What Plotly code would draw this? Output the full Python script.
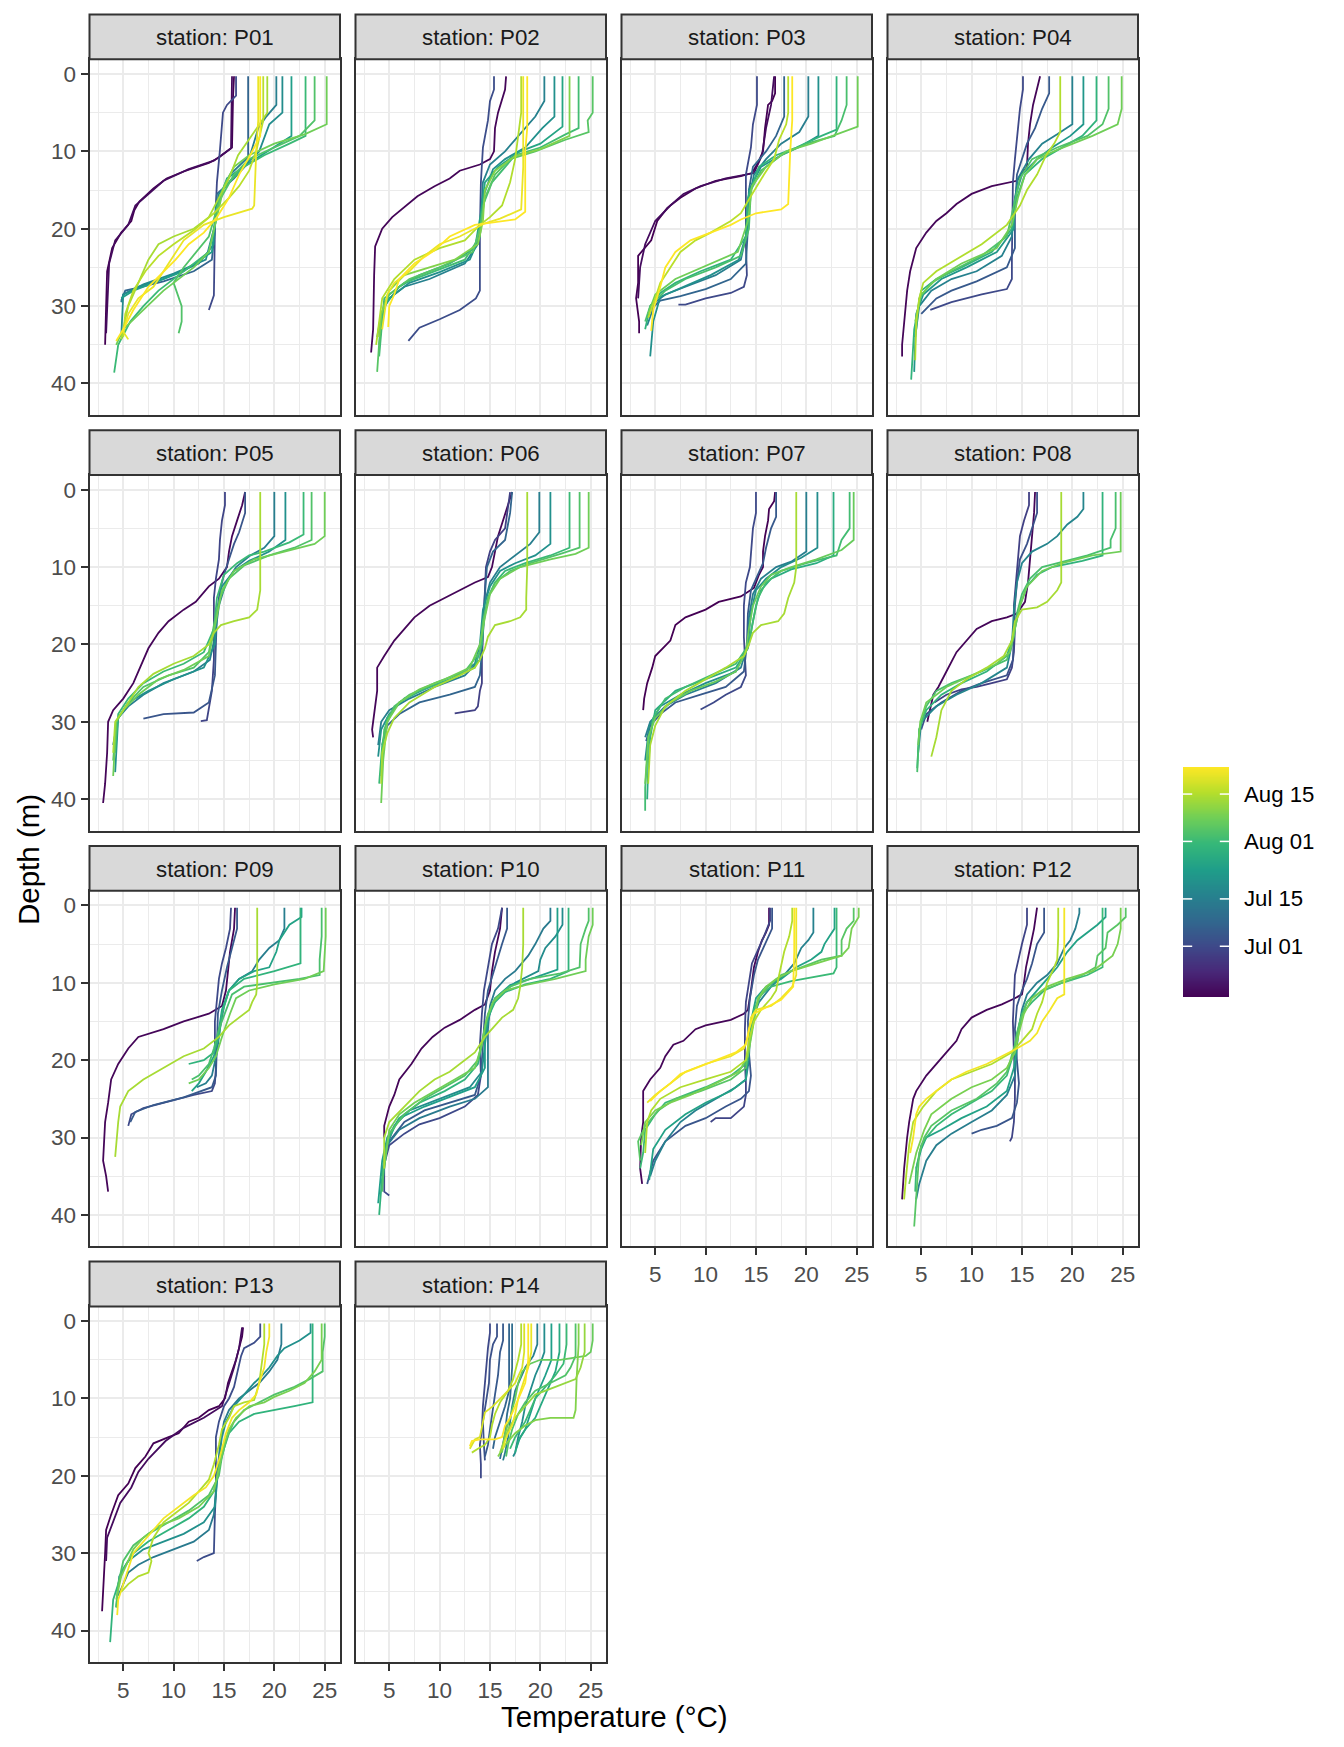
import pandas as pd
import plotly.graph_objects as go
from plotly.colors import sample_colorscale

# ---------------- data: (sampling date, [(temperature °C, depth m), ...]) ----------------
P01 = [
    ("2021-06-16", [(16.0,0.3),(15.9,3),(15.8,9.5),(14.5,10.8),(13.5,11.5),(11,12.6),(9.3,13.5),(8,14.8),(6.6,16.5),(6.1,17.6),(5.8,19),(4.8,20.5),(3.9,22.5),(3.4,25.5),(3.3,30),(3.2,35)]),
    ("2021-06-18", [(15.8,0.3),(15.7,9.6),(14,11.2),(11.5,12.3),(9,13.8),(7.5,15.5),(6.2,17),(5.5,19.5),(4.2,21.5),(3.6,24.5),(3.4,30),(3.3,33.5)]),
    ("2021-07-01", [(16.2,0.3),(16.2,2.8),(15.3,4),(14.9,5),(14.6,9.8),(14.3,14),(14.1,20),(14.0,25),(14.0,28.6),(13.5,30.5)]),
    ("2021-07-08", [(17.4,0.3),(17.4,11.5),(16,13.5),(14.3,15.5),(14.1,20),(13.8,24),(12,25.5),(9,26.8),(6.5,27.6),(5.2,28),(4.8,29.3)]),
    ("2021-07-15", [(20.2,0.3),(20.2,4),(19.2,5.5),(18.4,7),(17.6,10.5),(15.6,13),(14.2,17),(14.0,22),(12.5,24.5),(9,26.5),(6.5,27.5),(5,28.5),(4.8,29.5)]),
    ("2021-07-19", [(20.8,0.3),(20.8,5),(19.5,6.5),(18.5,10),(16.5,12.5),(14.5,15.5),(14,20),(13.2,24),(10,25.8),(7,27.2),(5,28.5),(4.8,34)]),
    ("2021-07-24", [(21.7,0.3),(21.7,8),(19.8,9.6),(17.5,11.5),(15.3,13.5),(14.3,17),(13.8,23),(11,25.5),(8,27),(6,28),(4.8,29)]),
    ("2021-08-01", [(23.1,0.3),(23.1,8),(21.5,9),(19,10.5),(17,12),(14.8,15),(14.2,19),(13.5,23),(10.5,26),(8.5,28),(7,30),(5.7,32),(4.5,35),(4.1,38.6)]),
    ("2021-08-04", [(24.0,0.3),(24.0,6),(22.5,8),(20,9.5),(17.5,11),(16,13),(14.5,16.5),(13.5,21),(11,25),(10,27),(10.8,30),(10.8,32),(10.5,33.5)]),
    ("2021-08-08", [(25.2,0.3),(25.2,6.5),(23,7.8),(20,9),(17.5,10.5),(16,12),(15,14.5),(14.2,19),(13.5,23),(12,25),(10.5,26.5),(9,28),(7,30.5),(5,33),(4.3,35)]),
    ("2021-08-14", [(19.3,0.3),(19.3,5),(18.0,7.5),(17.2,9),(16.4,10.5),(15.5,13.5),(14.5,16),(13.5,18.5),(12,20),(10,21),(8.5,22),(7.5,24),(6.5,27),(5.5,30),(5,33),(4.8,34.3)]),
    ("2021-08-16", [(18.9,0.3),(18.9,6),(18.2,10),(17.5,12.5),(16.5,14.5),(15.5,16),(14,18),(12,20.2),(10,22),(8.5,23.5),(7.2,25.5),(6,28),(5.2,31),(5.0,34)]),
    ("2021-08-21", [(18.4,0.3),(18.4,6),(18.2,10),(18.0,17),(17.8,17.4),(15,18.5),(13,19.5),(11,21.5),(10,23.5),(8,27.5),(6.5,29),(5.5,31),(5.0,33.3),(5.5,34.3)]),
    ("2021-08-23", [(18.6,0.3),(18.6,8),(17.6,10.5),(16.5,13),(15.5,16),(14.3,18.5),(13,20.5),(11.5,22),(10.2,24),(9,25.5),(7.5,27.5),(6,30.5),(5,33),(4.3,34.5)]),
]

P02 = [
    ("2021-06-17", [(16.6,0.3),(16.5,2),(15.8,5),(15.5,7),(15.4,10),(15,11),(14,11.7),(12,12.5),(11,13.5),(9.5,14.5),(7.8,15.8),(6.5,17.2),(5.3,18.5),(4.3,20),(3.6,22.3),(3.5,26),(3.4,33),(3.2,36)]),
    ("2021-07-02", [(15.4,0.3),(15.4,2),(15,3.5),(14.8,6),(14.3,9.5),(14.1,14),(14.0,20),(14.0,23),(14.0,28),(13.6,29),(12,30.5),(10,31.7),(8,32.8),(6.9,34.5)]),
    ("2021-07-16", [(20.4,0.3),(20.4,3.5),(19.5,5.5),(18.5,7),(17.5,8.5),(16.5,10),(15,11.7),(14.3,14),(14.1,19),(13.8,22),(12.5,24.5),(9,26.5),(6.5,27.5),(5.5,28.5),(4.5,29.5),(4,35)]),
    ("2021-07-20", [(21.4,0.3),(21.4,5.5),(20.2,7),(18.5,9.5),(16.5,11),(15.3,12.3),(14.3,16),(14,21),(13,24),(10,25.6),(7,27),(5,29),(4.2,31),(3.8,34)]),
    ("2021-07-26", [(22.2,0.3),(22.2,6.8),(20,9),(18,10),(15.8,12),(14.5,14),(14.1,18),(13.5,22.5),(11,24.5),(8,26),(6,27.5),(4.5,30),(4.0,33)]),
    ("2021-08-02", [(23.8,0.3),(23.8,7),(22.5,7.8),(20,9.5),(17.5,10.5),(16.5,12),(15.2,14),(14.3,17),(14,21),(12.5,24),(9,25.8),(6.5,27),(4.5,29),(4,36.5)]),
    ("2021-08-05", [(25.2,0.3),(25.2,5),(24.7,6),(24.8,7.5),(22.5,8.5),(19.5,10),(17,11),(15.5,13),(14.5,16),(14,20),(13.3,23),(10,25),(7,26.5),(5,28.5),(4.2,31),(3.8,38.5)]),
    ("2021-08-10", [(22.9,0.3),(22.9,8),(20,9.7),(17.5,10.6),(15.5,12.5),(14.5,15),(14.3,19),(13.8,22),(11.5,24),(9,25),(6.5,26),(5,28),(4.2,31),(4,34)]),
    ("2021-08-15", [(18.1,0.3),(18.1,5),(17.8,8),(17.5,11),(17.0,14),(16.2,17),(15,18.5),(14,19.5),(12.5,21.5),(10,22.5),(7.5,24),(5.5,26.5),(4.3,29),(4,32),(3.7,35)]),
    ("2021-08-21", [(18.3,0.3),(18.3,6),(18.3,12),(18.1,17.5),(16,18.7),(14.5,19.3),(12,21),(10,22),(8.5,23.5),(7,25.5),(5.5,27),(4.8,28.5),(4.5,31),(4.3,33)]),
    ("2021-08-23", [(18.7,0.3),(18.7,7),(18.5,10),(18.5,15),(18.5,17.8),(17.5,18.8),(13.5,19.5),(11,21),(9.5,22.8),(7.5,24.5),(6,26.5),(5.5,28.5),(5,30),(4.9,32.7)]),
]

P03 = [
    ("2021-06-16", [(16.9,0.3),(16.9,2.5),(16.6,3.5),(16.2,4),(15.9,7),(15.7,10),(15.2,11.5),(14.6,12.8),(13.5,13.2),(11,13.8),(9,14.8),(7.5,16),(6.2,17.3),(5.2,19),(4.6,21.5),(3.3,23.5),(3.3,27),(3.1,29),(3.4,32),(3.4,33.5)]),
    ("2021-06-18", [(16.8,0.3),(16.5,4),(16,7),(15.6,10.5),(14.8,12.8),(12,13.5),(9.5,14.5),(7.8,15.5),(6.5,17),(5,19),(4,22),(3.5,25),(3.3,29)]),
    ("2021-07-01", [(15.1,0.3),(15.1,4),(14.7,6.5),(14.5,9.5),(14.0,13),(14.0,18),(14.0,22),(14.1,26),(13.8,27.5),(12.5,28.3),(10,29),(8,29.8),(7.3,29.8)]),
    ("2021-07-08", [(17.8,0.3),(17.8,5.5),(17,8),(16,10),(14.7,12),(14.3,15),(14.2,20),(14.0,24.5),(12.5,26.5),(10,27.8),(7.5,28.7),(5.5,29.3),(4.5,30.5)]),
    ("2021-07-15", [(20.2,0.3),(20.2,5.5),(19.3,7.5),(17.5,9),(16,11),(14.8,13),(14.2,17),(14,21),(13.5,24),(11,26),(8,27.5),(6,28.5),(5,29.5),(4.2,32.5)]),
    ("2021-07-20", [(21.2,0.3),(21.2,8),(19.5,9.3),(17.5,10.5),(15.5,12),(14.3,15),(14.2,20),(13.3,24),(10.5,26),(7.5,27.7),(5.5,28.8),(4.8,32),(4.5,36.5)]),
    ("2021-07-30", [(23.0,0.3),(23.0,7.2),(21.5,8),(19,9.5),(17,10.5),(15.3,12),(14.2,16),(14,21),(12.5,24),(9.5,25.5),(7,27),(5.5,28.3),(4.5,30),(4,33)]),
    ("2021-08-03", [(24.0,0.3),(24.0,4),(23.5,6),(22.8,8),(20,9),(17.5,10.5),(15.5,12.5),(14.5,15),(14.3,20),(13.5,23.5),(11,25),(8,26.5),(6,28),(4.5,30),(4,32)]),
    ("2021-08-08", [(25.1,0.3),(25.1,6.8),(23,7.8),(20.5,9),(18,10),(16,12),(14.6,14.5),(14.2,19),(13.2,23),(10,24.8),(7,26.5),(5,28.5),(4.3,31)]),
    ("2021-08-16", [(18.2,0.3),(18.2,5),(18.0,6.5),(17.3,8.5),(16.8,11),(15.8,13),(14.4,16),(13.5,18),(12.5,19),(10.5,20.5),(9,21.5),(7.5,23),(6.5,25),(5.5,27),(5,29),(4.3,31.5)]),
    ("2021-08-23", [(18.6,0.3),(18.6,6),(18.4,10),(18.3,14),(18.2,16.8),(17.5,17.5),(15,18),(13.5,18.8),(12.5,19.5),(10.5,20.5),(8.5,21.5),(7,23),(6,25),(5.5,27.5),(4.8,30.5),(4.6,33.2)]),
]

P04 = [
    ("2021-06-17", [(16.8,0.3),(16.5,2),(16.1,4),(15.8,6.5),(15.6,9),(15.5,12),(14.5,13.8),(12,14.5),(10,15.5),(8.5,16.8),(7.5,18),(6.5,19),(5.5,20.5),(4.5,22.5),(3.9,25.5),(3.6,28),(3.4,31),(3.1,35),(3.1,36.5)]),
    ("2021-07-01", [(15.1,0.3),(15.1,2),(14.8,4.5),(14.5,8),(14.3,11),(14.1,14),(14.0,20),(14.0,24),(14.0,26.5),(13.5,27.8),(11,28.5),(8,29.5),(5.9,30.5)]),
    ("2021-07-05", [(17.7,0.3),(17.7,2.5),(17,4.5),(16.3,7),(15.5,9),(15,11),(14.5,13),(14.3,18),(14.3,22.5),(13.5,25),(10.5,26.8),(8,28),(6.5,29),(5,31)]),
    ("2021-07-16", [(20.0,0.3),(20.0,6.5),(18.5,7.8),(17,9),(15.7,11),(14.6,13.5),(14.2,17),(14,21),(13,23.5),(10.5,25.5),(8,26.5),(6,28),(4.8,30),(4.4,34)]),
    ("2021-07-22", [(21.1,0.3),(21.1,6.5),(19.8,8),(18,9.5),(16.5,11),(15,13),(14.3,16),(14.2,20),(12.5,23),(9.5,25),(7,26.5),(5.2,28.5),(4.5,31),(4.3,38.5)]),
    ("2021-07-30", [(22.4,0.3),(22.4,6),(21,8),(19,9.5),(17,11),(15.3,13),(14.5,16),(14,20),(12,23),(9,25),(6.5,26.5),(5,28),(4.3,33),(4,39.5)]),
    ("2021-08-04", [(23.6,0.3),(23.6,4.5),(23,6.5),(21.5,8),(18.5,9.5),(16,11),(14.8,13.5),(14.2,17),(13.5,21),(11,23.5),(8,25.5),(6,27),(4.8,29),(4.5,33)]),
    ("2021-08-08", [(24.9,0.3),(24.9,4.5),(24.5,6.5),(22,8),(18.5,9.8),(16.5,11),(15.3,13),(14.6,16),(14,19.5),(12.5,22.5),(9,24.5),(6.5,26.5),(5,28.5),(4.4,32)]),
    ("2021-08-15", [(18.8,0.3),(18.8,7.5),(18.2,9),(17.4,10.5),(16.5,13),(15.5,15),(14.8,17),(13.5,19.5),(11,22),(8.5,24),(6.5,25.5),(5.2,27),(4.8,29),(4.5,32),(4.4,37)]),
]

P05 = [
    ("2021-06-17", [(17.1,0.3),(16.8,2),(16.3,4),(15.8,6),(15.5,8),(15.3,10),(14.5,11.5),(13.5,12.5),(12.2,14.5),(11,15.5),(9.5,17),(8.5,18.5),(7.5,20.5),(6.8,22.5),(6.0,25),(5,27),(4,28.5),(3.5,30),(3.4,34),(3.2,38),(3.0,40.5)]),
    ("2021-06-30", [(15.1,0.3),(15.1,2),(14.8,4),(14.6,6.5),(14.5,9),(14.2,11.5),(14.0,14),(14,18),(14.0,22),(13.8,26),(13.5,28.5),(13.3,29.8),(12.7,29.9)]),
    ("2021-07-04", [(17.1,0.3),(17.1,3),(16.5,5.5),(16,7),(15.5,9),(15,11),(14.6,13),(14.3,16),(14.2,20),(14.1,24),(13.5,27.5),(12,28.8),(9,29),(7,29.6)]),
    ("2021-07-15", [(20.0,0.3),(20.0,6),(19,7.5),(17.5,8.6),(16.2,10),(15.2,12),(14.5,15),(14.1,19),(13.6,22),(12,23.5),(9,25),(7,26.5),(5.5,28),(4.5,29.5),(4.0,33)]),
    ("2021-07-20", [(21.1,0.3),(21.1,6.5),(19.5,8),(17.5,9.2),(16,10.5),(14.8,12.5),(14.3,16),(14.1,20),(13,23),(10,24.5),(7.5,26),(5.5,27.5),(4.5,29.5),(4.2,36.5)]),
    ("2021-08-01", [(22.9,0.3),(22.9,5.8),(21.5,6.8),(19,8),(17.5,8.5),(16.3,9.5),(15,11),(14.3,14),(14.0,18),(13,21),(11,22.5),(9,23.5),(7,25),(5.5,27),(4.5,29),(4.2,34)]),
    ("2021-08-04", [(23.7,0.3),(23.7,6.5),(22,7.5),(19.5,8.5),(17,9.8),(15.5,11.5),(14.6,14),(14.0,17.5),(13.5,21),(12,23),(9.5,24),(7,25.5),(5.5,27.5),(4.3,30),(4,35)]),
    ("2021-08-08", [(25.0,0.3),(25.0,6),(24,7),(21,8),(18,9),(16,10.5),(14.8,13),(14.2,17),(13.5,21.5),(11,23.3),(8.5,24.5),(6.5,26.5),(5,28.5),(4.3,30),(4,37)]),
    ("2021-08-14", [(18.6,0.3),(18.6,8),(18.6,13),(18.3,15.5),(17.5,16.5),(16,17),(14.7,17.5),(14,18.5),(13.5,20),(12,21.5),(10,22.5),(8,23.8),(6.5,25.5),(5,28.5),(4.2,30),(4,34)]),
]

P06 = [
    ("2021-06-17", [(17.2,0.3),(16.8,2),(16.3,4),(15.8,6),(15.5,8),(15.2,10),(14.8,11.3),(13.5,12),(12,13),(10.5,14),(9,15),(7.5,16.5),(6.5,18),(5.5,19.5),(4.5,21.5),(3.8,23),(3.8,26),(3.5,29),(3.3,31),(3.4,32)]),
    ("2021-06-29", [(17.0,0.3),(16.8,2.5),(16.5,5),(15.5,6.5),(15,8),(14.6,10),(14.5,13),(14.3,18),(14.2,22),(14.2,25),(14.0,26),(13.8,28),(13.5,28.5),(11.5,28.9)]),
    ("2021-07-08", [(17.2,0.3),(17.0,3),(16.5,6.5),(15.3,8),(14.7,10),(14.5,13),(14.3,17),(14.2,21),(14.0,24),(13.5,25.5),(11,26.5),(8,27.5),(6,29),(4.8,30.5),(4.3,33)]),
    ("2021-07-15", [(19.9,0.3),(19.9,5.5),(19,7),(17.5,8.5),(16,10),(15,12),(14.5,14.5),(14.3,18),(14,22),(12.5,24),(9.5,25.5),(7,27),(5,28.5),(4.2,30),(3.9,33)]),
    ("2021-07-20", [(21.0,0.3),(21.0,7),(19.5,8.5),(17.5,9.5),(16,10.5),(15,12.5),(14.3,15.5),(14,20),(13.5,22.5),(11.5,24.3),(9,25.5),(6.5,27),(5,29),(4.2,31),(3.9,34.5)]),
    ("2021-08-01", [(22.9,0.3),(22.9,7.5),(21,8.5),(18.5,9.5),(16.5,10.5),(15.5,12),(14.8,14),(14.4,17),(14.2,20),(13.5,23),(11,24.5),(8,26),(6,27.5),(4.8,29.5),(4.3,33),(4.0,38)]),
    ("2021-08-04", [(23.9,0.3),(23.9,7.5),(22,8.3),(19,9.5),(17,10.5),(15.5,12),(14.8,14),(14.3,17),(14.0,21),(12.5,23.5),(9.5,25),(7,26.5),(5.5,28),(4.5,31),(4.2,37)]),
    ("2021-08-08", [(24.8,0.3),(24.8,7.5),(23.5,8.3),(21,9),(18,10),(16,11.5),(15,13.5),(14.5,16.5),(14.0,20),(13,23),(10.5,24.5),(8,25.8),(6,27.5),(4.8,30),(4.4,35),(4.2,40.5)]),
    ("2021-08-14", [(18.7,0.3),(18.7,6),(18.7,10),(18.6,14),(18.6,15.5),(18,16.5),(17,17),(15.5,17.5),(14.8,19),(14.5,20.5),(14,22),(13.5,23),(12,24),(9.5,25.5),(7,27.5),(5.5,29.5),(4.8,31.5),(4.3,34),(4.2,38)]),
]

P07 = [
    ("2021-06-16", [(16.9,0.3),(16.8,1.5),(16.3,2.5),(16.2,4),(15.9,6),(15.7,8),(15.7,10),(15.3,11),(14.8,12.7),(13.5,13.8),(11.3,14.5),(10,15.5),(8,16.5),(7,17.5),(6.5,19.5),(5.8,20.5),(5,21.5),(4.7,23),(4.2,25),(3.9,27),(3.8,28.5)]),
    ("2021-07-01", [(15.0,0.3),(15.0,3),(14.7,5),(14.5,8),(14.4,10),(14,12),(13.8,15),(13.8,19),(13.9,22),(14.0,24),(13.5,25.5),(12,26.5),(10.8,27.5),(9.5,28.4)]),
    ("2021-07-05", [(17.0,0.3),(17.0,3.5),(16.5,5),(16,7.5),(15.7,9.5),(15,11.5),(14.5,13),(14.2,16),(14.1,20),(13.8,23.5),(12,25.5),(9.5,26.5),(7,27.5),(5.5,29),(4.5,30.5),(4.1,32.5)]),
    ("2021-07-15", [(20.0,0.3),(20.0,8),(18.5,9.3),(17,10),(15.5,11.5),(14.7,13.5),(14.3,16.5),(14.2,20),(13.5,23),(11,25),(8,26.5),(6,28),(4.5,30),(4.0,32)]),
    ("2021-07-19", [(21.1,0.3),(21.1,7.5),(19.5,8.8),(17.5,10),(16,11.5),(15,13),(14.5,16),(14.2,20),(13,23.5),(10,25),(7.5,26.5),(5.5,28),(4.4,30.5),(4.0,35)]),
    ("2021-07-28", [(22.7,0.3),(22.7,8.5),(21,9.5),(18.5,10.3),(16.5,11.5),(15.5,13),(15,15),(14.6,18),(14.2,20.5),(13,23),(10,24.5),(7,26),(5,28.5),(4.5,32),(4.3,36),(4.2,40)]),
    ("2021-08-02", [(24.3,0.3),(24.3,5),(23.5,6.5),(23.0,8.5),(20,9.5),(17.5,10.5),(16,12),(15.2,14),(14.7,17),(14.3,20),(13,22.5),(10.5,24),(8,25.5),(6,27),(4.8,29.5),(4.3,33),(4.0,38.5),(4.0,41.5)]),
    ("2021-08-07", [(24.7,0.3),(24.7,6.5),(23.5,7.8),(21,9),(18.5,10),(16.5,11),(15.5,12.5),(14.7,15),(14.3,18),(14.0,21),(13,23.5),(11,24.8),(8.5,26),(6.5,27.5),(5,29.5),(4.3,32),(4.0,38)]),
    ("2021-08-14", [(19.0,0.3),(19.0,6),(19.0,10),(18.8,12),(18.2,14),(17.8,16),(17.2,17),(15.5,17.5),(14.7,18.5),(14.3,20),(13.8,21.5),(12,23),(10,24.5),(8,26),(6,28),(5,30.5),(4.5,33),(4.3,38)]),
]

P08 = [
    ("2021-06-17", [(16.3,0.3),(16.2,3),(16,6),(15.8,9),(15.6,12),(15.3,14.5),(14.5,16),(13.5,16.5),(12,17),(10.5,18),(9.5,19.5),(8.5,21),(7.5,23.5),(6.7,25.5),(6.2,26.5),(5.8,29),(5.6,30)]),
    ("2021-06-29", [(15.7,0.3),(15.7,2),(15.2,4),(14.8,6),(14.6,9),(14.4,12),(14.2,15),(14.3,18),(14.2,21),(14.0,23),(13.5,24.5),(12,25),(10.5,25.5),(9,25.8),(7.5,26.5),(6.3,27.5)]),
    ("2021-07-03", [(16.5,0.3),(16.5,3),(16.0,5),(15.5,7),(14.8,9),(14.5,12),(14.3,15),(14.2,18.5),(14.1,22),(13.5,24),(11,25),(9,26),(7,27.5),(5.5,29),(5,31)]),
    ("2021-07-17", [(21.1,0.3),(21.1,2.5),(20.5,3.5),(19.5,4.5),(18.5,6),(17.5,7),(16,8),(15,9.5),(14.5,12),(14.2,15.5),(14,20),(13.5,23),(11,25),(8.5,26.5),(6.5,28),(5,30),(4.7,34)]),
    ("2021-07-30", [(23.0,0.3),(23.0,8.5),(21,9.2),(18,10),(16.5,11),(15.5,12.5),(14.8,15),(14.2,18.5),(13.5,21.5),(11.5,23.5),(9,25),(7,26.5),(5.5,28.5),(4.8,31),(4.6,36)]),
    ("2021-08-03", [(24.3,0.3),(24.3,5),(23.8,6.5),(23.8,7.5),(21.5,8.5),(19,9.3),(17,10),(15.8,11.5),(15,13.5),(14.5,16),(14.2,19),(13.5,22),(11,23.5),(8,25),(6.5,26),(5.5,28),(4.8,31),(4.6,36.5)]),
    ("2021-08-08", [(24.8,0.3),(24.8,6),(24.8,8),(22,8.5),(19,9.5),(17,10.5),(15.5,12.5),(14.8,15),(14.3,18),(13.8,21),(12.5,22.5),(10,24),(7.5,25.5),(5.5,27.5),(4.9,30),(4.7,33)]),
    ("2021-08-14", [(18.9,0.3),(18.9,5),(18.9,10),(18.9,12),(18.5,13),(17.5,14.5),(16.5,15.2),(15,15.5),(14.3,17),(14,19.5),(13.2,21.5),(11.5,23),(9.5,24.5),(8,26),(7,28.5),(6.5,32),(6,34.5)]),
]

P09 = [
    ("2021-06-17", [(16.1,0.3),(16.0,3),(15.6,6),(15.4,8.5),(15.2,11),(14.8,13),(13.5,14),(11,15),(9,16),(6.5,17),(5.5,18.5),(4.5,20.5),(3.8,22.5),(3.5,25.5),(3.2,28),(3.0,33),(3.3,35),(3.5,37)]),
    ("2021-07-01", [(15.7,0.3),(15.6,3),(15.2,5.5),(14.8,7.5),(14.5,9.5),(14.3,12),(14.1,15),(14.1,18),(14.2,21),(14.1,23),(13.8,24),(12,24.5),(9.5,25.3),(7,26.2),(5.8,27),(5.5,28.5)]),
    ("2021-07-05", [(16.3,0.3),(16.3,3),(15.8,5.5),(15.3,8),(14.8,11),(14.4,14),(14.3,18),(14.2,22),(13.8,23.5),(11,24.8),(8,25.8),(6.2,26.7),(5.7,28)]),
    ("2021-07-15", [(21.0,0.3),(21.0,3),(20.5,4.5),(19.5,5.5),(18.5,7),(17.8,8.5),(16.5,9.5),(15.5,11),(15,13),(14.6,16),(14.3,19),(13.8,22),(13.2,23),(12.3,23.5)]),
    ("2021-07-25", [(22.7,0.3),(22.7,1.5),(21.5,2.5),(20.5,4.5),(20.2,6),(19.5,8),(18,8.5),(16.5,9.5),(15.5,11),(14.8,13.5),(14.5,16),(14.0,19.5),(13.2,21.5),(12.5,23),(11.8,24)]),
    ("2021-07-30", [(22.6,0.3),(22.6,7.5),(20,8.5),(17,9.5),(15.5,11),(14.8,14),(14.5,17),(14,19),(13,20),(11.5,20.5)]),
    ("2021-08-03", [(24.7,0.3),(24.7,4),(24.5,7),(24.5,9),(22.5,9.5),(19.5,10),(17,10.5),(15.8,11.5),(15.2,13.5),(14.5,16),(14.0,18.5),(13.5,20.5),(12.5,22),(11.8,22.5)]),
    ("2021-08-08", [(25.1,0.3),(25.1,4),(24.9,8.5),(23,9.5),(20,10.2),(17.5,11),(16.2,12),(15.6,14),(14.8,17),(14.2,19.5),(13.5,21),(12.5,22.5),(11.5,23)]),
    ("2021-08-14", [(18.3,0.3),(18.3,5),(18.3,10),(18.2,11.5),(17.8,12.5),(17.5,13.5),(16.5,14.5),(15.5,15.5),(14.5,17),(13,18.5),(11,19.5),(9,21),(7,22.5),(5.5,24),(4.7,26),(4.5,28),(4.2,32.5)]),
]

P10 = [
    ("2021-06-17", [(16.2,0.3),(16.0,3),(15.5,6),(15.2,8.5),(15.0,11),(14.5,12.8),(13.5,13.5),(12,14.8),(10.5,15.8),(9.3,17),(8.2,18.5),(7.2,20.5),(6,22.5),(5.5,24.5),(5,26),(4.5,28.5),(4.5,30)]),
    ("2021-07-01", [(16.2,0.3),(15.8,3),(15.2,5),(14.8,8),(14.4,11),(14.2,14),(14.0,18),(14.1,22),(13.8,24.5),(12.5,26),(10,27.5),(8,28.3),(6.5,29.5),(5,31),(4.5,33.5),(4.5,37),(5,37.5)]),
    ("2021-07-05", [(16.7,0.3),(16.7,3),(16.2,5),(15.5,8),(14.8,11),(14.5,14),(14.3,18),(14.1,22),(13.5,24.5),(11,25.5),(8.5,26.5),(6.5,28),(5,30.5),(4.5,33)]),
    ("2021-07-14", [(21.0,0.3),(21.0,2),(20.3,3),(19.5,5),(18.8,6.5),(17.5,8.5),(16.5,9.5),(15.5,11),(15,13),(14.8,16),(14.8,20),(14.8,23.5),(13.5,25),(11,26),(8,27.5),(6,29),(4.8,31),(4.2,35)]),
    ("2021-07-19", [(22.2,0.3),(22.2,2.5),(21.5,4),(20.5,5.5),(20,7),(19.8,8.5),(17.5,10),(16,11.5),(15.2,13),(14.8,15),(14.5,18),(14.2,21.5),(13,23.5),(10,25),(7,26.5),(5.5,28.5),(4.8,31),(4.3,36)]),
    ("2021-07-24", [(21.7,0.3),(21.7,8.3),(19.5,9.3),(17,10.3),(15.5,12),(14.8,14.5),(14.5,17.5),(14.5,21),(13.5,23.5),(11,24.8),(8.5,26),(6,27.5),(4.8,30),(4.3,33),(3.9,38.5)]),
    ("2021-07-30", [(22.8,0.3),(22.8,8.5),(21,9.5),(18.5,10.2),(16.5,11.2),(15.5,12.5),(14.8,14.5),(14.3,17.5),(13.8,20.5),(12.5,22.5),(10.5,24),(8,25.5),(6,27.5),(4.8,30.5),(4.3,35),(4.0,40)]),
    ("2021-08-04", [(24.8,0.3),(24.8,2),(24.5,3),(24.0,5),(23.9,8),(22,8.8),(19,9.5),(17,10.5),(15.5,12),(14.8,14),(14.3,17),(13.8,20),(12.5,22),(10.5,23.5),(8.5,25),(6.5,27),(5,29.5),(4.5,33),(4.3,37)]),
    ("2021-08-08", [(25.2,0.3),(25.2,2.5),(24.8,4),(24.5,7),(24.5,8.5),(21.5,9.5),(18.5,10.3),(16.5,11),(15.3,12.5),(14.6,15),(14.2,18),(13.5,21),(11.5,22.5),(9.5,24),(7.5,25.5),(6,27),(5,29),(4.5,34)]),
    ("2021-08-14", [(18.3,0.3),(18.3,5),(18.2,8),(18.0,10.5),(17.8,12),(17.3,13.5),(16.2,14.5),(15.5,15.5),(14.5,17),(13.5,19),(12.5,20),(11,21.5),(9.5,22.5),(8,24),(6.5,26),(5,28),(4.5,30),(4.5,34)]),
]

P11 = [
    ("2021-06-17", [(16.3,0.3),(16.3,2.5),(16.0,3.5),(15.6,4.5),(15.2,6),(14.8,8),(14.5,11),(14.2,13.5),(13.8,14),(12.5,14.8),(10,15.5),(9,16),(7.8,17.5),(6.8,18),(6,19.5),(5.5,21),(4.5,22.5),(3.8,24),(3.8,28),(3.6,30),(3.5,34),(3.7,36)]),
    ("2021-06-30", [(16.4,0.3),(16.4,2),(15.8,4),(15.3,5.5),(14.6,7.5),(14.3,10),(14.0,12.5),(13.9,16),(13.9,20),(14.0,23),(14.0,24.5),(13.8,26),(12.5,27.5),(11,27.5),(10.5,28)]),
    ("2021-07-04", [(16.6,0.3),(16.6,3),(15.9,5),(15.2,7),(14.8,9),(14.4,12),(14.2,15),(14.3,19),(14.5,22),(14.3,24),(13.5,25),(12,26),(10,27.5),(8,28.5),(6,30.5),(4.8,33),(4.2,36)]),
    ("2021-07-16", [(20.7,0.3),(20.7,3.5),(20.2,4.5),(19.5,5.5),(18.8,7.5),(17.8,9),(16.5,10.5),(15.3,12.5),(14.7,14.5),(14.4,17),(14.3,20),(14.0,22.5),(13,23.5),(11,25),(9,26.5),(7.5,28),(6,30.5),(5,33),(4.5,35)]),
    ("2021-07-25", [(22.8,0.3),(22.8,3),(22.3,4),(21.8,5),(21.5,6),(20.5,7),(19,8),(17.5,9.5),(16,10.5),(15,12),(14.5,15),(14.3,18.5),(14,22.5),(12.5,24),(10,25.5),(8,27),(6,29),(4.8,31.5),(4.4,35.5)]),
    ("2021-08-01", [(23.0,0.3),(23.0,8),(22.7,8.8),(21,9.2),(18.5,9.8),(16.5,10.5),(15.5,11.5),(14.8,13.5),(14.4,17),(14.0,20.5),(12.5,22),(10,23.5),(8,24.5),(6,25.5),(5,27),(4.0,29),(3.8,32),(3.5,34)]),
    ("2021-08-05", [(24.7,0.3),(24.7,2),(24.0,3),(23.5,4.5),(23.5,6.5),(21.5,7),(19.5,8),(17.5,9),(16.2,10.5),(15.3,12),(14.8,14.5),(14.4,18),(14.0,21),(12.5,22.5),(9.5,24),(7,25),(5.3,26.5),(4.0,28.5),(3.3,30.5),(3.5,33)]),
    ("2021-08-09", [(25.2,0.3),(25.2,1.5),(24.5,3),(24.2,5.5),(23.5,6.5),(21,7.5),(18.5,8.5),(17,9.5),(16,10.5),(15.2,12),(14.8,15),(14.2,19.5),(13.3,21.5),(11,23),(8.5,24.5),(6.5,25.5),(5,26.5),(4,28),(3.6,31)]),
    ("2021-08-15", [(18.6,0.3),(18.6,2),(18.3,4),(17.8,6),(17.3,9),(17,11),(16.5,12),(15.5,13.5),(14.8,15),(14.3,17.5),(14.0,20),(12.5,21.5),(10,22.5),(7.5,23.5),(5.5,25),(4.6,26.5),(4.2,28),(4.0,32)]),
    ("2021-08-21", [(19.0,0.3),(19.0,4),(19.0,9),(18.6,10.5),(17.5,12),(16.5,13),(15,13.5),(14.5,14.5),(14.2,17),(13.8,18.5),(12.5,19.5),(10,20.5),(8,21.5),(7,22.5),(6,23.5),(5,24.5),(4.2,25.5)]),
    ("2021-08-23", [(18.8,0.3),(18.8,6),(18.7,10.5),(17.5,12.2),(16,13.2),(14.8,14),(14.3,16),(14.0,18),(13,19),(11,20),(9,21),(7.5,21.8),(6.5,23),(5.5,24),(4.5,25.3)]),
]

P12 = [
    ("2021-06-17", [(16.5,0.3),(16.2,3),(15.8,5.5),(15.4,8),(15.2,10),(15,11.5),(14.3,12),(13,12.8),(11.5,13.5),(10,14.5),(9,16),(8.5,17.5),(7.5,19),(6.5,20.5),(5.5,22),(4.5,24),(4.2,25),(3.8,28),(3.6,30),(3.3,34),(3.1,38)]),
    ("2021-06-30", [(15.5,0.3),(15.5,2.5),(15.0,5),(14.6,7.5),(14.3,9),(14.2,12),(14.1,15),(14.2,19),(14.3,22),(14.3,25),(14.2,28),(14.0,30),(13.8,30.5)]),
    ("2021-07-04", [(17.2,0.3),(17.2,3.5),(16.5,5),(16.0,7.5),(15.5,9.5),(15,11),(14.5,13),(14.3,16),(14.5,20),(14.7,23),(14.5,25.5),(14,27.5),(12.5,28.5),(11,29),(10,29.5)]),
    ("2021-07-15", [(20.7,0.3),(20.7,1),(20.3,3),(19.8,4.5),(19.2,5.5),(18.5,7.5),(17.5,9),(16.5,10),(15.5,11.5),(15,13.5),(14.6,16.5),(14.4,19.5),(14.3,22),(13.5,24.5),(12,26.5),(10,28),(8,29.5),(6.5,31),(5.5,33),(4.8,36),(4.5,38)]),
    ("2021-07-25", [(23.3,0.3),(23.3,1.5),(22.5,2.5),(21.5,3.5),(20.5,4.5),(19.5,6),(18.5,8),(17.5,9.5),(16.5,11),(15.5,12.5),(15,14),(14.6,17),(14.2,21),(13.5,24),(11.5,26),(9,27.5),(7,29),(5.5,30),(5,31.5),(4.5,34)]),
    ("2021-08-01", [(23.0,0.3),(23.0,8),(21.5,9),(19,10),(17.2,11),(16,12.5),(15,14),(14.5,16.5),(14.2,19),(13.5,22),(12,24),(10,25.5),(8,27),(6.5,28.5),(5.5,30),(5.0,31),(4.5,34),(4.4,37)]),
    ("2021-08-05", [(25.3,0.3),(25.3,1.5),(24.5,2.5),(23.5,3.5),(23.3,5.5),(22.5,6.5),(22.3,8),(21,9),(19,10),(17,11),(15.5,12.5),(14.8,15),(14.3,18),(13.5,21.5),(12.5,23),(10.5,25),(8,26.5),(6,28.5),(5.3,30),(4.8,32),(4.3,41.5)]),
    ("2021-08-09", [(24.8,0.3),(24.8,3),(24.5,5),(24.0,6.5),(23.0,7.5),(22,8.5),(19.5,9.5),(17.5,10.5),(16,12),(15.2,14),(14.7,16.5),(14.3,19),(13.5,21),(12,22.5),(10,23.5),(8,25),(6,27),(5.3,29),(4.5,32),(3.8,36)]),
    ("2021-08-15", [(18.6,0.3),(18.6,4),(18.5,7),(18.2,8),(17.5,10),(17,12.5),(16.5,14),(16,16),(15,17.5),(14,19),(12,20.5),(10,21.5),(8,22.5),(6.5,24),(5.2,26),(4.2,28),(3.8,31),(3.5,35),(3.3,38)]),
    ("2021-08-22", [(19.2,0.3),(19.2,7),(19.2,11.5),(18.5,12),(17.8,13.5),(17,15),(16.5,16.5),(15.8,17.5),(14.5,18.5),(13,19.5),(11.5,20.5),(9.5,21.5),(8,22.5),(6.5,24),(5.5,25),(4.8,26),(4.5,27),(4.2,30),(3.9,32)]),
]

P13 = [
    ("2021-06-16", [(16.9,0.8),(16.8,2),(16.6,3),(16.2,5),(15.8,6.5),(15.4,8),(15.1,10),(14.5,11),(13.5,11.5),(12.5,12.5),(11.5,13),(10.5,14.5),(9.5,15),(8,15.8),(7.2,17.5),(6.2,19),(5.5,21),(4.5,22.5),(3.8,25),(3.3,27),(3.2,30),(3.0,34),(2.9,37.5)]),
    ("2021-06-18", [(16.8,0.8),(16.5,3.5),(16.0,6),(15.3,9),(14.8,11),(13,12.5),(11,13.8),(9.2,15.5),(7.5,17.8),(6.5,19.5),(5.8,21.5),(4.7,23.5),(4,26),(3.4,28),(3.3,31)]),
    ("2021-07-02", [(18.6,0.3),(18.6,2),(18,2.8),(17,3.5),(16.7,4.5),(16.3,7),(16,8.5),(15.5,10),(15,11),(14.5,13),(14.2,15),(14.2,18),(14.2,22),(14.1,25),(14.0,28),(14.0,30),(13,30.5),(12.3,31)]),
    ("2021-07-14", [(20.7,0.3),(20.7,3),(20.3,5),(19.5,6.5),(18.5,8),(17.5,9),(16.5,10),(15.5,11.5),(15,13),(14.6,16),(14.4,19),(14.2,22),(14.0,25),(13.5,27),(12,28.5),(10,29.5),(8,30.5),(6.5,31.5),(5.5,32.5),(5,34),(4.5,35.5)]),
    ("2021-07-20", [(23.6,0.3),(23.6,1.5),(22.5,2.5),(21,3.5),(20.3,4.5),(19.5,6),(18.8,7),(18,8),(17,9.5),(16,11),(15.2,13),(14.8,15),(14.5,18),(14.3,21),(14.1,24),(13,26),(11,27.5),(9,28.5),(7,29.5),(5.5,31),(4.6,33),(4.3,37)]),
    ("2021-07-30", [(23.8,0.3),(23.8,8),(23.8,10.5),(22,11),(20,11.5),(18,12),(16.5,13),(15.5,14.5),(15,16.5),(14.5,19),(14.0,22),(13,24),(11.5,25.5),(9.5,27),(7.5,28.5),(6,30),(5,32),(4.5,34),(4.0,36),(3.7,41.5)]),
    ("2021-08-04", [(25.0,0.3),(25.0,2),(24.8,4),(24.8,6.5),(23.5,7.5),(22,8.5),(20,9.5),(18.5,10.5),(17,11.5),(16,13),(15.3,15),(14.8,17.5),(14.5,20),(13.5,22.5),(11.5,24.5),(9.5,26),(7.5,27.5),(6,29),(5,31),(4.5,34),(4.3,37)]),
    ("2021-08-09", [(24.7,0.3),(24.7,2.5),(24.7,5),(24,6.5),(23,8),(21.5,9),(20,9.8),(19,10.5),(17.5,11),(16.2,12.5),(15.5,14),(15,16),(14.5,19),(14,22),(12.5,24),(10.5,25.5),(8.5,26.5),(7,28),(6,29.5),(5.5,31),(4.8,33),(4.3,36)]),
    ("2021-08-15", [(19.0,0.3),(19.0,3),(18.8,5),(18.5,8),(18.0,10.2),(17,10.5),(16,11),(15.5,12.5),(14.8,14),(14.5,16),(14.0,18.5),(13.5,20.5),(12.5,22),(11.5,23.5),(10,25),(9,26),(8,28),(7.5,30),(7.8,31),(7.5,32.5),(6.5,33),(5.5,34),(4.8,35)]),
    ("2021-08-22", [(19.5,0.3),(19.5,2),(19.2,4),(19,6),(18.5,8),(18.2,9.5),(17.5,10.5),(16.5,11.5),(15.8,12.5),(15.2,14.5),(14.8,16.5),(14.5,18),(14.0,20),(13.2,21.5),(12,22.5),(11,23.5),(10,24.5),(9,25.5),(8,27),(7,28.5),(6,30),(5.5,32),(5,34),(4.5,36),(4.4,38)]),
]

P14 = [
    ("2021-07-01", [(15.0,0.3),(15.0,1.5),(14.8,3.5),(14.7,5),(14.5,8),(14.3,11),(14.2,14),(14.0,16),(14.1,18.5),(14.1,20.3)]),
    ("2021-07-03", [(15.7,0.3),(15.7,2),(15.3,3),(15.0,5),(14.9,8),(14.6,10.5),(14.3,13),(14.4,16),(14.5,18)]),
    ("2021-07-05", [(16.3,0.3),(16.3,2.5),(16.0,4),(15.8,7),(15.5,9.5),(15.2,12),(15.0,14),(14.8,16),(14.5,17.5)]),
    ("2021-07-08", [(16.9,0.3),(16.9,5),(16.9,9),(16.5,11),(16,13),(15.5,15),(15.3,16.5)]),
    ("2021-07-10", [(17.2,0.3),(17.2,6),(17.0,10),(16.7,12),(16.5,14.5),(16.2,16.5),(16,17.8)]),
    ("2021-07-15", [(19.7,0.3),(19.7,3),(19.3,4.5),(18.5,6),(18,7.5),(17.5,9),(17.2,11),(17,13),(16.8,15),(16.5,17),(16.3,18)]),
    ("2021-07-19", [(20.4,0.3),(20.4,4),(20,5.5),(19.5,7),(19,9),(18.5,11),(18.2,13),(17.8,15),(17.5,17),(17.3,17.5)]),
    ("2021-07-24", [(21.1,0.3),(21.1,5),(20.5,7),(20,8.5),(19.5,10),(19,12),(18.5,14),(18,15),(17.6,16.5)]),
    ("2021-07-27", [(21.9,0.3),(21.9,4),(21.5,6.5),(21,8),(20.5,9.5),(20,11),(19.5,12.5),(18.5,14),(17.8,15.5),(17.5,17)]),
    ("2021-08-01", [(22.6,0.3),(22.6,3),(22.3,5.5),(21.5,7),(20.5,8.5),(19.5,10),(19,11.5),(18.5,13),(17.5,15),(17,16.5)]),
    ("2021-08-04", [(23.5,0.3),(23.5,4.5),(23.0,6),(22.5,7),(21,8),(19.5,9),(18.5,10.5),(17.8,12),(17.2,14),(16.8,16),(16.6,17.5)]),
    ("2021-08-07", [(25.2,0.3),(25.2,2.5),(25,4),(24.5,4.5),(22,5),(20,5),(19,5.5),(18.2,6.5),(17.8,8),(17.5,10),(17,12.5),(16.5,14.5),(16.2,17)]),
    ("2021-08-10", [(23.8,0.3),(23.8,3),(23.6,7.5),(23.5,10),(23.5,11.5),(23.3,12.5),(21,12.5),(19.5,12.8),(18.5,13.5),(17.5,14.5),(16.5,16),(15.8,17.5)]),
    ("2021-08-12", [(24.4,0.3),(24.4,4),(24,6),(23.5,7.5),(21.5,8.5),(19.5,9.5),(18.5,11),(17.5,12.5),(16.8,14),(16.3,16),(16,17)]),
    ("2021-08-15", [(18.1,0.3),(18.1,3),(17.8,5),(17.3,7.5),(16.8,9),(16,10.5),(15.5,12),(15.2,13.5),(15,15),(14.5,16),(13.8,16.5),(13.2,17)]),
    ("2021-08-19", [(18.4,0.3),(18.4,4),(18.2,6),(17.5,8),(16.8,9),(16,10),(15.3,11),(14.5,11.8),(14.2,13.5),(14.0,15),(13.5,15.3),(13,16.5)]),
    ("2021-08-21", [(19.1,0.3),(19.1,4),(18.8,6),(18.3,8),(17.8,10),(17.5,12),(17.2,13.5),(16.8,14.5),(16.5,15.5),(16.3,16.5)]),
    ("2021-08-23", [(18.8,0.3),(18.8,5),(18.5,8),(18,9.5),(17.5,11),(17,12.5),(16.5,13.5),(16.2,15),(15.5,15.3),(14,15.3),(13.2,15.5),(13.0,16.2)]),
]

STATIONS = ["P01","P02","P03","P04","P05","P06","P07","P08","P09","P10","P11","P12","P13","P14"]
STATION_DATA = [P01,P02,P03,P04,P05,P06,P07,P08,P09,P10,P11,P12,P13,P14]

X_TICKS = [5, 10, 15, 20, 25]
Y_TICKS = [0, 10, 20, 30, 40]
LEGEND_DATES = ["2021-07-01", "2021-07-15", "2021-08-01", "2021-08-15"]
LEGEND_LABELS = ["Jul 01", "Jul 15", "Aug 01", "Aug 15"]

# ---------------- styling / geometry (page pixels) ----------------
OFF = 8                       # default body margin of the html page
W, H = 1344 - OFF, 1747 - OFF
FONT = "Liberation Sans, Arial, sans-serif"
COL_LEFT = [89.5, 355.5, 621.5, 887.5]
PANEL_W = 250.5
STRIP_TOP = [14.5, 430.2, 845.9, 1261.6]
STRIP_H = 44.8
PANEL_H = 355.5
XRANGE = [1.65, 26.52]
YRANGE = [44.05, -1.9]

def doy(s):
    return pd.Timestamp(s).dayofyear

all_days = [doy(d) for st in STATION_DATA for d, _ in st]
DMIN, DMAX = min(all_days), max(all_days)

def px(x):
    return (x - OFF) / W

def py(y):
    return 1 - (y - OFF) / H

fig = go.Figure()
layout = dict(
    width=W, height=H, margin=dict(l=0, r=0, t=0, b=0),
    paper_bgcolor="white", plot_bgcolor="white", showlegend=False,
    font=dict(family=FONT),
)
shapes, annotations = [], []

for i, (name, profiles) in enumerate(zip(STATIONS, STATION_DATA)):
    r, c = divmod(i, 4)
    k = i + 1
    left = COL_LEFT[c]
    top = STRIP_TOP[r] + STRIP_H
    bottom = top + PANEL_H
    xa = "xaxis" if k == 1 else f"xaxis{k}"
    ya = "yaxis" if k == 1 else f"yaxis{k}"
    xref = "x" if k == 1 else f"x{k}"
    yref = "y" if k == 1 else f"y{k}"

    show_x = name in ("P11", "P12", "P13", "P14")
    show_y = c == 0

    common = dict(
        showgrid=True, gridcolor="#EBEBEB", gridwidth=2.2, zeroline=False,
        showline=True, mirror=True, linecolor="#333333", linewidth=2,
        ticks="outside", ticklen=7, tickwidth=2, tickcolor="#333333",
        tickfont=dict(size=22.5, color="#4D4D4D", family=FONT),
    )
    layout[xa] = dict(
        common, domain=[px(left), px(left + PANEL_W)], anchor=yref,
        range=XRANGE, tickmode="array", tickvals=X_TICKS,
        minor=dict(dtick=2.5, tick0=0, showgrid=True, gridcolor="#EBEBEB", gridwidth=1.1, ticks=""),
        showticklabels=show_x,
    )
    if not show_x:
        layout[xa]["ticks"] = ""
    layout[ya] = dict(
        common, domain=[py(bottom), py(top)], anchor=xref,
        range=YRANGE, autorange=False, tickmode="array", tickvals=Y_TICKS,
        minor=dict(dtick=5, tick0=0, showgrid=True, gridcolor="#EBEBEB", gridwidth=1.1, ticks=""),
        showticklabels=show_y,
    )
    if not show_y:
        layout[ya]["ticks"] = ""

    # strip
    shapes.append(dict(type="rect", xref="paper", yref="paper",
                       x0=px(left), x1=px(left + PANEL_W), y0=py(STRIP_TOP[r] + STRIP_H), y1=py(STRIP_TOP[r]),
                       fillcolor="#D9D9D9", line=dict(color="#333333", width=2), layer="above"))
    annotations.append(dict(text=f"station: {name}", xref="paper", yref="paper",
                            x=px(left + PANEL_W / 2), y=py(STRIP_TOP[r] + STRIP_H / 2 + 1),
                            showarrow=False, xanchor="center", yanchor="middle",
                            font=dict(size=22.3, color="#1A1A1A", family=FONT)))

    for date, pts in sorted(profiles, key=lambda p: doy(p[0])):
        col = sample_colorscale("Viridis", [(doy(date) - DMIN) / (DMAX - DMIN)])[0]
        fig.add_trace(go.Scatter(
            x=[p[0] for p in pts], y=[p[1] for p in pts], mode="lines",
            line=dict(color=col, width=1.8), xaxis=xref, yaxis=yref,
            hoverinfo="skip",
        ))

# ---------------- colour bar legend (heatmap on its own axes) ----------------
CB_L, CB_R, CB_T, CB_B = 1183, 1229, 767, 997
days = list(range(DMIN, DMAX + 1))
fig.add_trace(go.Heatmap(
    z=[[d] for d in days], y=days, x=[0], colorscale="Viridis",
    zmin=DMIN, zmax=DMAX, showscale=False, zsmooth="best",
    xaxis="x15", yaxis="y15", hoverinfo="skip",
))
layout["xaxis15"] = dict(domain=[px(CB_L), px(CB_R)], anchor="y15", range=[-0.5, 0.5],
                         showgrid=False, zeroline=False, showticklabels=False, ticks="", showline=False)
layout["yaxis15"] = dict(domain=[py(CB_B), py(CB_T)], anchor="x15", range=[DMIN, DMAX],
                         showgrid=False, zeroline=False, showticklabels=False, ticks="", showline=False)
for d, lab in zip(LEGEND_DATES, LEGEND_LABELS):
    v = doy(d)
    for a, b in ((0, 0.2), (0.8, 1.0)):
        shapes.append(dict(type="line", xref="x15 domain", yref="y15", x0=a, x1=b, y0=v, y1=v,
                           line=dict(color="white", width=1.5), layer="above"))
    annotations.append(dict(text=lab, xref="x15 domain", yref="y15", x=1, y=v, xshift=13,
                            xanchor="left", yanchor="middle", showarrow=False,
                            font=dict(size=22.2, color="#000000", family=FONT)))

# ---------------- axis titles ----------------
annotations.append(dict(text="Temperature (°C)", xref="paper", yref="paper",
                        x=px(614), y=py(1716), showarrow=False, xanchor="center", yanchor="middle",
                        font=dict(size=29.5, color="#000000", family=FONT)))
annotations.append(dict(text="Depth (m)", xref="paper", yref="paper", textangle=-90,
                        x=px(28), y=py(860), showarrow=False, xanchor="center", yanchor="middle",
                        font=dict(size=29.5, color="#000000", family=FONT)))

layout["shapes"] = shapes
layout["annotations"] = annotations
fig.update_layout(**layout)
fig.write_html("out.html")
